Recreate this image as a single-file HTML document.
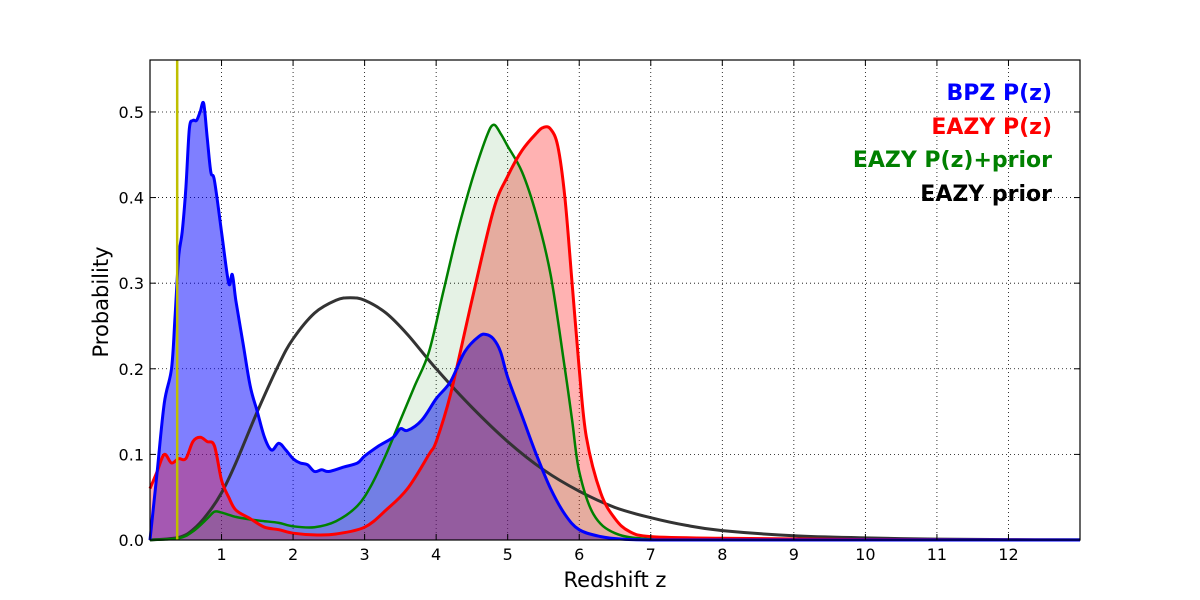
<!DOCTYPE html>
<html><head><meta charset="utf-8"><style>
body{margin:0;background:#fff;}
svg{display:block;font-family:"DejaVu Sans","Liberation Sans",sans-serif;}
</style></head><body>
<svg id="chart" width="1200" height="600">
<g id="grid"></g>
<g id="fills"></g>
<g id="lines"></g>
<g id="axes"></g>
<text x="615" y="587" font-size="21" text-anchor="middle">Redshift z</text>
<text transform="translate(108,302) rotate(-90)" font-size="21" text-anchor="middle">Probability</text>
<g font-size="22" font-weight="bold" text-anchor="end">
<text x="1052" y="100" fill="#0000ff">BPZ P(z)</text>
<text x="1052" y="134" fill="#ff0000">EAZY P(z)</text>
<text x="1052" y="167" fill="#008000">EAZY P(z)+prior</text>
<text x="1052" y="201" fill="#000000">EAZY prior</text>
</g>
</svg>
<script>
const bpzZ=[0,0.1,0.2,0.3,0.35,0.4,0.45,0.5,0.55,0.6,0.65,0.7,0.75,0.8,0.85,0.9,1.0,1.1,1.15,1.2,1.3,1.4,1.5,1.6,1.7,1.8,1.9,2.0,2.1,2.2,2.3,2.4,2.5,2.7,2.9,3.0,3.2,3.4,3.5,3.6,3.8,4.0,4.2,4.4,4.6,4.7,4.8,4.9,5.0,5.2,5.4,5.6,5.8,6.0,6.3,6.6,7,8,13];
const bpzP=[0,0.08,0.16,0.2,0.26,0.33,0.36,0.41,0.48,0.49,0.49,0.5,0.51,0.47,0.43,0.42,0.36,0.3,0.31,0.28,0.23,0.18,0.15,0.12,0.105,0.113,0.105,0.095,0.09,0.088,0.08,0.082,0.08,0.085,0.09,0.098,0.11,0.12,0.13,0.128,0.14,0.165,0.185,0.22,0.238,0.24,0.235,0.22,0.19,0.145,0.1,0.06,0.03,0.012,0.004,0.001,0,0,0];
const eazyZ=[0,0.1,0.2,0.3,0.4,0.5,0.6,0.7,0.8,0.9,1.0,1.1,1.2,1.4,1.6,1.8,2.0,2.3,2.6,3.0,3.3,3.6,3.9,4.0,4.2,4.5,4.8,5.0,5.2,5.4,5.5,5.6,5.7,5.8,5.9,6.0,6.1,6.3,6.5,6.7,7,8,10,13];
const eazyP=[0.06,0.08,0.1,0.09,0.095,0.095,0.115,0.12,0.115,0.11,0.07,0.05,0.035,0.025,0.015,0.012,0.008,0.006,0.007,0.015,0.035,0.06,0.1,0.115,0.17,0.28,0.385,0.425,0.455,0.475,0.482,0.48,0.46,0.4,0.3,0.2,0.12,0.055,0.025,0.01,0.004,0.002,0.0005,0];
const combZ=[0,0.4,0.6,0.8,0.9,1.0,1.2,1.4,1.6,1.8,2.0,2.3,2.6,2.9,3.1,3.3,3.5,3.7,3.9,4.1,4.3,4.5,4.7,4.8,4.9,5.0,5.2,5.4,5.6,5.8,5.9,6.0,6.2,6.5,7,8,13];
const combP=[0,0.002,0.01,0.025,0.033,0.032,0.027,0.024,0.022,0.02,0.016,0.015,0.022,0.04,0.065,0.1,0.14,0.18,0.22,0.29,0.36,0.42,0.47,0.485,0.475,0.46,0.43,0.38,0.31,0.2,0.14,0.08,0.03,0.008,0.001,0,0];
const priorZ=[0,0.4,0.6,0.8,1.0,1.2,1.5,1.8,2.0,2.3,2.6,2.8,3.0,3.3,3.6,4.0,4.5,5.0,5.5,6.0,6.5,7.0,7.5,8.0,9,10,11,12,13];
const priorP=[0,0.003,0.012,0.03,0.055,0.09,0.15,0.205,0.235,0.265,0.28,0.283,0.28,0.265,0.24,0.2,0.155,0.115,0.082,0.057,0.038,0.026,0.017,0.011,0.005,0.0025,0.001,0.0005,0.0002];
const xTicks=[1,2,3,4,5,6,7,8,9,10,11,12];
const yTicks=[0,0.1,0.2,0.3,0.4,0.5];
const yTickLabels=["0.0","0.1","0.2","0.3","0.4","0.5"];
const markerZ=0.38;

const L=150,R=1080,T=60,B=540,XMAX=13,YMAX=0.5607;
const sx=z=>L+(z/XMAX)*(R-L);
const sy=p=>B-(p/YMAX)*(B-T);
const NS="http://www.w3.org/2000/svg";
function mk(tag,attrs,parent){const e=document.createElementNS(NS,tag);for(const k in attrs)e.setAttribute(k,attrs[k]);parent.appendChild(e);return e;}
const grid=document.getElementById('grid'),fills=document.getElementById('fills'),lines=document.getElementById('lines'),axes=document.getElementById('axes');
xTicks.forEach(t=>{const l=mk('line',{x1:sx(t),x2:sx(t),y1:T,y2:B,stroke:'#000','stroke-dasharray':'1,3','stroke-width':0.8},grid);

});
yTicks.forEach(t=>{const l=mk('line',{x1:L,x2:R,y1:sy(t),y2:sy(t),stroke:'#000','stroke-dasharray':'1,3','stroke-width':0.8},grid);

});
function smooth(zs,ps){
  const P=zs.map((z,i)=>[sx(z),sy(ps[i])]);
  let d='M'+P[0][0].toFixed(1)+','+P[0][1].toFixed(1);
  for(let i=0;i<P.length-1;i++){
    const p0=P[i-1]||P[i],p1=P[i],p2=P[i+1],p3=P[i+2]||P[i+1];
    let c1=[p1[0]+(p2[0]-p0[0])/6,p1[1]+(p2[1]-p0[1])/6];
    let c2=[p2[0]-(p3[0]-p1[0])/6,p2[1]-(p3[1]-p1[1])/6];
    c1[1]=Math.min(c1[1],B);c2[1]=Math.min(c2[1],B);
    d+=' C'+c1[0].toFixed(1)+','+c1[1].toFixed(1)+' '+c2[0].toFixed(1)+','+c2[1].toFixed(1)+' '+p2[0].toFixed(1)+','+p2[1].toFixed(1);
  }
  return d;
}
function area(zs,ps,color,op,name){const p=mk('path',{d:smooth(zs,ps)+' L'+sx(zs[zs.length-1])+','+B+' L'+sx(zs[0])+','+B+' Z',fill:color,'fill-opacity':op},fills);

}
function line(zs,ps,color,w,name){const p=mk('path',{d:smooth(zs,ps),fill:'none',stroke:color,'stroke-width':w,'stroke-linejoin':'round'},lines);

}
area(bpzZ,bpzP,'#0000ff',0.5,'bpz-fill');
area(eazyZ,eazyP,'#ff0000',0.3,'eazy-fill');
area(combZ,combP,'#008000',0.1,'eazy-prior-combined-fill');
line(priorZ,priorP,'#333333',3,'eazy-prior-line');
line(combZ,combP,'#008000',2.5,'eazy-prior-combined-line');
line(eazyZ,eazyP,'#ff0000',3,'eazy-line');
line(bpzZ,bpzP,'#0000ff',3,'bpz-line');
const ml=mk('line',{x1:sx(markerZ),x2:sx(markerZ),y1:T,y2:B,stroke:'#bfbf00','stroke-width':2.5},lines);


const fr=mk('rect',{x:L,y:T,width:R-L,height:B-T,fill:'none',stroke:'#000','stroke-width':1.2},axes);


xTicks.forEach(t=>{mk('line',{x1:sx(t),x2:sx(t),y1:B,y2:B-6,stroke:'#000'},axes);mk('line',{x1:sx(t),x2:sx(t),y1:T,y2:T+6,stroke:'#000'},axes);
const tx=mk('text',{x:sx(t),y:B+20,'font-size':16,'text-anchor':'middle'},axes);tx.textContent=t;

});
yTicks.forEach((t,i)=>{mk('line',{x1:L,x2:L+6,y1:sy(t),y2:sy(t),stroke:'#000'},axes);mk('line',{x1:R,x2:R-6,y1:sy(t),y2:sy(t),stroke:'#000'},axes);
const tx=mk('text',{x:L-6,y:sy(t)+6,'font-size':16,'text-anchor':'end'},axes);tx.textContent=yTickLabels[i];

});
</script>
</body></html>
